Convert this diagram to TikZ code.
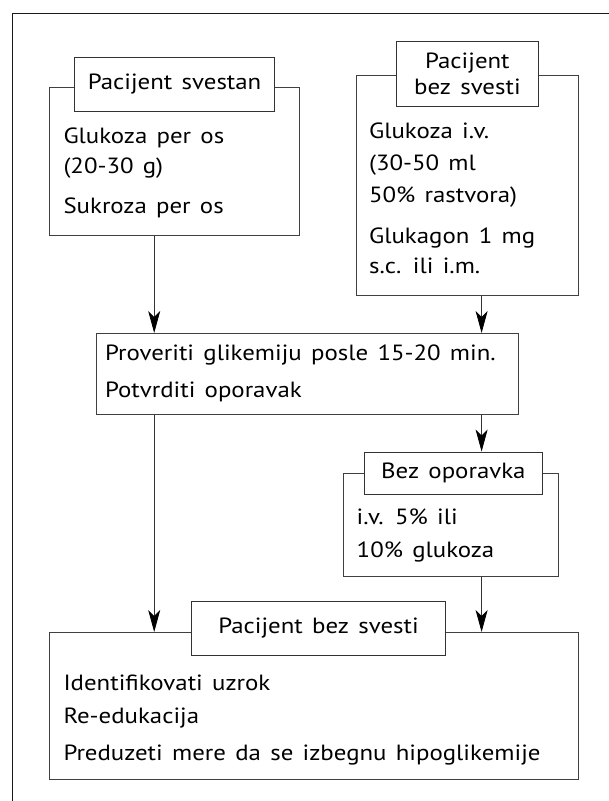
\documentclass[tikz,border=0pt]{standalone}
\usepackage{fontspec}
\setmainfont{PT Sans}[FakeStretch=1.13,WordSpace=1.4]
\usetikzlibrary{arrows.meta}
\begin{document}
\begin{tikzpicture}[x=1pt,y=-1pt,
 box/.style={draw=black!75, line width=0.9pt, fill=white, inner sep=0pt},
 ttl/.style={draw=black!80, line width=0.9pt, fill=white, inner sep=0pt, align=center, font=\fontsize{22}{26}\selectfont},
 txt/.style={anchor=base west, inner sep=0pt, align=left, font=\fontsize{22}{30}\selectfont},
 arr/.style={draw=black!80, line width=0.8pt, -{Stealth[length=22pt,width=12pt,inset=6pt,color=black]}},
 frame/.style={draw=black!90, line width=1.6pt}
]
\useasboundingbox (0,0) rectangle (609,801);
\draw[frame] (12.4,801) -- (12.4,13.5) -- (609,13.5);

% box A
\node[box, anchor=north west, minimum width=250pt, minimum height=148pt] (A) at (49.3,87) {};
\node[ttl, minimum width=200pt, minimum height=54pt] (tA) at (174.6,84) {Pacijent svestan};
\node[txt] (xA) at (63.3,213) {Glukoza per os\\(20-30 g)\\[10pt]Sukroza per os};

% box B
\node[box, anchor=north west, minimum width=222.6pt, minimum height=220pt] (B) at (355.7,75) {};
\node[ttl, minimum width=142.5pt, minimum height=65pt] (tB) at (467.4,73.5) {Pacijent\\bez svesti};
\node[txt] (xB) at (368.9,273) {Glukoza i.v.\\[2pt](30-50 ml\\[2pt]50\% rastvora)\\[11pt]Glukagon 1 mg\\s.c. ili i.m.};

% box C
\node[box, anchor=north west, minimum width=422.5pt, minimum height=81pt] (C) at (95.9,333) {};
\node[txt] (xC) at (104.9,397) {Proveriti glikemiju posle 15-20 min.\\[7pt]Potvrditi oporavak};

% box D
\node[box, anchor=north west, minimum width=215.2pt, minimum height=103pt] (D) at (342.9,473) {};
\node[ttl, minimum width=178.2pt, minimum height=42pt] (tD) at (453.4,473) {Bez oporavka};
\node[txt] (xD) at (356.5,557) {i.v. 5\% ili\\[3pt]10\% glukoza};

% box E
\node[box, anchor=north west, minimum width=529pt, minimum height=147pt] (E) at (49.3,632) {};
\node[ttl, minimum width=254pt, minimum height=54pt] (tE) at (318.5,628) {Pacijent bez svesti};
\node[txt] (xE) at (63.3,760) {Identifikovati uzrok\\[3pt]Re-edukacija\\[7pt]Preduzeti mere da se izbegnu hipoglikemije};

% connectors
\coordinate (lx) at (154.2,0);
\coordinate (rx) at (481.6,0);
\draw[arr] (lx |- A.south) -- (lx |- C.north);
\draw[arr] (rx |- B.south) -- (rx |- C.north);
\draw[arr] (lx |- C.south) -- (lx |- E.north);
\draw[arr] (rx |- C.south) -- (rx |- tD.north);
\draw[arr] (rx |- D.south) -- (rx |- E.north);
\end{tikzpicture}
\end{document}
